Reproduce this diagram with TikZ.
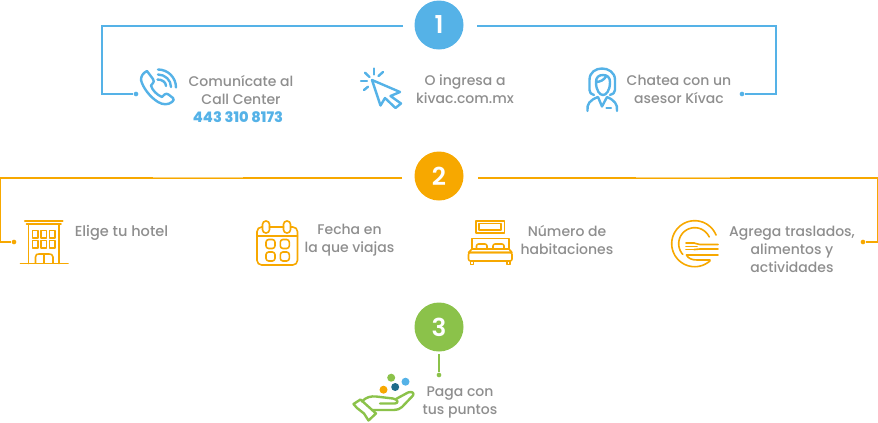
\documentclass[tikz,border=0pt]{standalone}
\usepackage{fontspec}
\setmainfont{Poppins Medium}
\newfontfamily\numfont{Poppins SemiBold}
\newfontfamily\phonefont{Poppins ExtraBold}
\definecolor{kblue}{HTML}{55B2E7}
\definecolor{korange}{HTML}{F7A800}
\definecolor{korangelt}{HTML}{FBD27A}
\definecolor{kgreen}{HTML}{8BC24A}
\definecolor{kteal}{HTML}{1E6C8A}
\definecolor{kgray}{HTML}{8E8E8E}
\tikzset{
  numdot/.style={circle,fill=#1,text=white,minimum size=36.75pt,inner sep=0pt,font=\numfont\fontsize{18.5}{18.5}\selectfont},
  link/.style={line width=1pt},
  enddot/.style={circle,fill=#1,minimum size=3.5pt,inner sep=0pt},
  lbl/.style={text=kgray,align=center,inner sep=0pt,font=\fontsize{10.5}{13.5}\selectfont},
  icon/.style={draw=#1,line width=1.8pt,line cap=round,line join=round,fill=none},
  thin icon/.style={draw=#1,line width=1.2pt,line cap=round,line join=round,fill=none}
}
\begin{document}
\begin{tikzpicture}[x=0.75pt,y=-0.75pt]
\useasboundingbox (0,0) rectangle (878,422);
% step circles
\node[numdot=kblue] (n1) at (439,25) {1};
\node[numdot=korange] (n2) at (439,176) {2};
\node[numdot=kgreen] (n3) at (439,327) {3};
% connector ends
\coordinate (c1l) at (102,26);
\coordinate (c1r) at (776,26);
\coordinate (c2l) at (0.7,178);
\coordinate (c2r) at (877.3,178);
\coordinate (s1l) at (403,26);
\coordinate (s1r) at (477,26);
\coordinate (s2l) at (402,178);
\coordinate (s2r) at (478,178);
\coordinate (s3) at (439,354);
\node[enddot=kblue] (d1l) at (136,94) {};
\node[enddot=kblue] (d1r) at (742,94) {};
\node[enddot=korange] (d2l) at (14,242) {};
\node[enddot=korange] (d2r) at (863,242) {};
\node[enddot=kgreen] (d3) at (439,375) {};
\draw[link,draw=kblue] (s1l) -- (c1l) |- (d1l);
\draw[link,draw=kblue] (s1r) -- (c1r) |- (d1r);
\draw[link,draw=korange] (s2l) -- (c2l) |- (d2l);
\draw[link,draw=korange] (s2r) -- (c2r) |- (d2r);
\draw[link,draw=kgreen] (s3) -- (d3);
\draw[draw=korangelt,line width=0.5pt] (153,177) -- (243,177);
\draw[draw=korangelt,line width=0.5pt] (636,177) -- (730,177);
% labels
\node[lbl] (t1) at (241,98.8) {Comunícate al\\Call Center\\\hspace*{-4.5pt}{\phonefont\fontsize{10.9}{13.5}\selectfont\color{kblue}443 310 8173}};
\node[lbl] (t2) at (465,89.3) {O ingresa a\\kivac.com.mx};
\node[lbl] (t3) at (679,89.3) {Chatea con un\\asesor Kívac};
\node[lbl,font=\fontsize{10.9}{13.5}\selectfont] (t4) at (121.5,233) {Elige tu hotel};
\node[lbl] (t5) at (349.5,240.3) {Fecha en\\la que viajas};
\node[lbl] (t6) at (567,240.3) {Número de\\habitaciones};
\node[lbl] (t7) at (792,249.3) {Agrega traslados,\\alimentos y\\actividades};
\node[lbl] (t8) at (460,402.3) {Paga con\\tus puntos};
% phone
\draw[icon=kblue] (147,71) -- (153,79) .. controls (154,81) and (154,82) .. (153,83) -- (151,85.5)
  .. controls (152,90) and (157,95) .. (162,97) -- (164.5,94.5) .. controls (166,93.5) and (167,93.5) .. (168.5,94.5)
  -- (173,98) .. controls (174,99.5) and (174,100.5) .. (172,102) .. controls (168,105) and (163,105) .. (158,102)
  .. controls (150,97) and (143,88) .. (141,80) .. controls (141,76) and (143,73) .. (147,71) -- cycle;
\draw[icon=kblue] (158,69.5) .. controls (168,69.5) and (176,77.5) .. (176,87.5);
\draw[icon=kblue] (158,74.5) .. controls (165,74.5) and (171,80) .. (171,87);
\draw[icon=kblue] (157.5,79.5) .. controls (162,79.5) and (166,82) .. (166,86);
% cursor
\draw[icon=kblue] (372,80) -- (400,92) -- (390.5,96) -- (401,103.5) -- (395.5,108) -- (385,98) -- (380.5,105.5) -- cycle;
\draw[icon=kblue] (374,68.5) -- (374,74.5);
\draw[icon=kblue] (378.5,76) -- (383,72);
\draw[icon=kblue] (365,72.7) -- (369.5,77);
\draw[icon=kblue] (361,81) -- (367,81);
\draw[icon=kblue] (364,90) -- (368,86.7);
% agent
\draw[icon=kblue] (594,95) .. controls (591,94.5) and (589.5,92.5) .. (589.5,90) -- (589.5,80) .. controls (589.5,72) and (596,68.5) .. (602,68.5)
  .. controls (608,68.5) and (615,72) .. (615,80) -- (615,90) .. controls (615,92.5) and (613,94.5) .. (610,95);
\draw[icon=kblue] (596,82) .. controls (596,91) and (600,95) .. (603,95) .. controls (606,95) and (610,91) .. (610,82) .. controls (610,77) and (607,75) .. (603,75) .. controls (599,75) and (596,77) .. (596,82)
  .. controls (600,82) and (604,80) .. (606,76.5);
\draw[icon=kblue] (587.5,111) .. controls (586.5,104) and (590,100) .. (598,97) -- (602,106.5) -- (607,97) .. controls (614,100) and (618,104) .. (617,111);
\draw[icon=kblue] (606.5,107.7) -- (611,107.7);
% hotel
\draw[icon=korange] (25,221) -- (62.5,221);
\draw[thin icon=korange] (26.5,224) -- (61,224);
\draw[thin icon=korange] (28.5,224) -- (28.5,263.5);
\draw[thin icon=korange] (59,224) -- (59,263.5);
\draw[thin icon=korange] (20.5,263.5) -- (68,263.5);
\foreach \wx in {32.5,41,49.5}\foreach \wy in {230.5,240.5}
  \draw[thin icon=korange] (\wx,\wy) rectangle ++(5.5,7.5);
\draw[thin icon=korange] (35.5,263) -- (35.5,257) .. controls (35.5,254.5) and (37,254) .. (39,254) -- (49,254) .. controls (51,254) and (53,254.5) .. (53,257) -- (53,263);
\draw[thin icon=korange] (44,254) -- (44,263);
% calendar
\draw[thin icon=korange,rounded corners=3.5pt] (257,227) rectangle (297.5,265);
\draw[thin icon=korange] (257,236) -- (297.5,236);
\draw[thin icon=korange,fill=white,rounded corners=2.5pt] (262.5,221) rectangle (269.5,233);
\draw[thin icon=korange,fill=white,rounded corners=2.5pt] (283.5,221) rectangle (290.5,233);
\draw[thin icon=korange] (269.5,227) -- (283.5,227);
\foreach \wx in {266,280.3}\foreach \wy in {239.5,252}
  \draw[thin icon=korange,rounded corners=2pt] (\wx,\wy) rectangle ++(9,9);
% bed
\draw[thin icon=korange] (476,221) rectangle (504.3,232.7);
\draw[thin icon=korange] (479,223.5) rectangle (501,230);
\draw[thin icon=korange] (472,249) -- (472,238.5) -- (509,238.5) -- (509,249);
\draw[thin icon=korange,rounded corners=1.5pt] (476.5,249) -- (476.5,244) -- (487,244) -- (487,249);
\draw[thin icon=korange,rounded corners=1.5pt] (493,249) -- (493,244) -- (504,244) -- (504,249);
\draw[thin icon=korange] (472,249) -- (509,249) -- (512,252.5) -- (468.5,252.5) -- cycle;
\draw[thin icon=korange,rounded corners=1.5pt] (468.5,252.5) rectangle (512,261);
\draw[thin icon=korange] (470.5,261) -- (470.5,264.5) -- (473.5,264.5) -- (473.5,261);
\draw[thin icon=korange] (507,261) -- (507,264.5) -- (510,264.5) -- (510,261);
% plate
\draw[thin icon=korange] plot[domain=22:312,samples=50] ({694.7+23*cos(\x)},{243.7-23*sin(\x)});
\draw[thin icon=korange] plot[domain=25:222,samples=40] ({694.7+16*cos(\x)},{243.7-16*sin(\x)});
\draw[thin icon=korange] (686,243) -- (694,243);
\draw[thin icon=korange] (686,246.3) -- (697,246.3);
\draw[thin icon=korange] (686,249.6) -- (694,249.6);
\draw[thin icon=korange] (694,243) .. controls (696,243) and (697,244.5) .. (700,244.5) -- (718,244.5);
\draw[thin icon=korange] (694,249.6) .. controls (696,249.6) and (697,249) .. (700,249) -- (718,249);
\draw[thin icon=korange] (686.5,255) -- (718,255);
\draw[thin icon=korange] (686.5,255) .. controls (688,258.5) and (692,260) .. (697,260) -- (710,260);
% coins
\fill[kgreen] (391.2,377.7) circle[radius=3pt];
\fill[kblue] (405.5,381.7) circle[radius=3pt];
\fill[kteal] (395.2,387) circle[radius=3pt];
\fill[korange] (383.5,389.7) circle[radius=3pt];
% hand
\draw[icon=kgreen] (353.5,404) -- (360.5,399.5) -- (376,413.5) -- (368.5,420.5) -- (364,413.5) -- (357,408) -- cycle;
\draw[icon=kgreen] (362,401.5) .. controls (366,397) and (371,396) .. (376,396.5) -- (393,398.5) .. controls (398,399.5) and (399,403) .. (395,403.5) -- (380,403.5);
\draw[icon=kgreen] (396,399) -- (408,392.5) .. controls (412,391) and (414.5,393) .. (413,395.5) -- (402,407) .. controls (400,409) and (397,410) .. (394,410) -- (373,410);
\end{tikzpicture}
\end{document}
